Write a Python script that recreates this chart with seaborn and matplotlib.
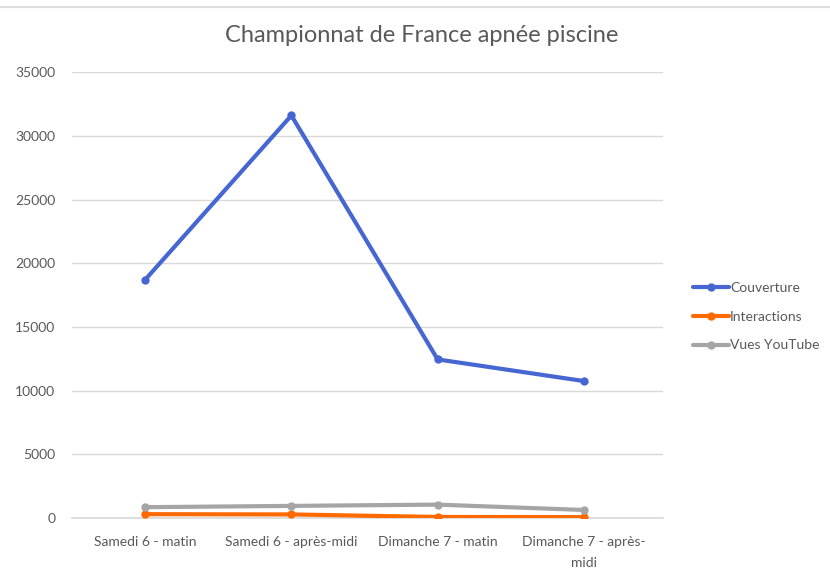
import matplotlib
matplotlib.use("Agg")
import matplotlib.pyplot as plt
import seaborn as sns
import pandas as pd
from matplotlib.lines import Line2D

categories = ["Samedi 6 - matin", "Samedi 6 - après-midi", "Dimanche 7 - matin", "Dimanche 7 - après-\nmidi"]
couverture = [18700, 31600, 12450, 10750]
interactions = [300, 280, 80, 70]
vues_youtube = [850, 950, 1050, 630]
series_names = ["Couverture", "Interactions", "Vues YouTube"]
colors = ["#4666D2", "#FF6A00", "#A5A5A5"]
yticks = [0, 5000, 10000, 15000, 20000, 25000, 30000, 35000]

rows = []
for name, vals in zip(series_names, [couverture, interactions, vues_youtube]):
    for i, v in enumerate(vals):
        rows.append({"x": i, "value": v, "series": name})
df = pd.DataFrame(rows)

sns.set_theme(style="white")
plt.rcParams['font.family'] = ['Lato', 'DejaVu Sans']

fig = plt.figure(figsize=(8.30, 5.76), dpi=100)
ax = fig.add_axes([0.0867, 0.1007, 0.712, 0.774])

for name, col in zip(series_names, colors):
    sub = df[df.series == name]
    sns.lineplot(data=sub, x="x", y="value", ax=ax, color=col, linewidth=3,
                 marker="o", markersize=6, markeredgewidth=0, legend=False, zorder=3)

ax.set_xlim(-0.5, 3.54)
ax.set_ylim(0, 35000)
ax.set_yticks(yticks)
ax.set_yticklabels([str(t) for t in yticks], color="#595959", fontsize=10)
ax.set_xticks(range(len(categories)))
ax.set_xticklabels(categories, color="#595959", fontsize=10, linespacing=1.9)
ax.tick_params(axis="y", length=0, pad=12)
ax.tick_params(axis="x", length=0, pad=13)
ax.grid(axis="y", color="#D9D9D9", linewidth=1)
for s in ["top", "right", "left"]:
    ax.spines[s].set_visible(False)
ax.spines["bottom"].set_color("#D9D9D9")
ax.set_xlabel("")
ax.set_ylabel("")

fig.text(0.508, 0.938, "Championnat de France apnée piscine", ha="center", va="center",
         fontsize=17, color="#595959")

handles = [Line2D([0], [0], color=c, linewidth=3, marker="o", markersize=6, markeredgewidth=0)
           for c in colors]
fig.legend(handles, series_names, loc="center left", bbox_to_anchor=(0.820, 0.45),
           frameon=False, fontsize=10, labelcolor="#595959", handlelength=2.6,
           handletextpad=0.05, labelspacing=1.2)

fig.add_artist(Line2D([0, 1], [0.988, 0.988], color="#DDDDDD", linewidth=1.5, transform=fig.transFigure))

fig.savefig("out.png", dpi=100, facecolor="white")
